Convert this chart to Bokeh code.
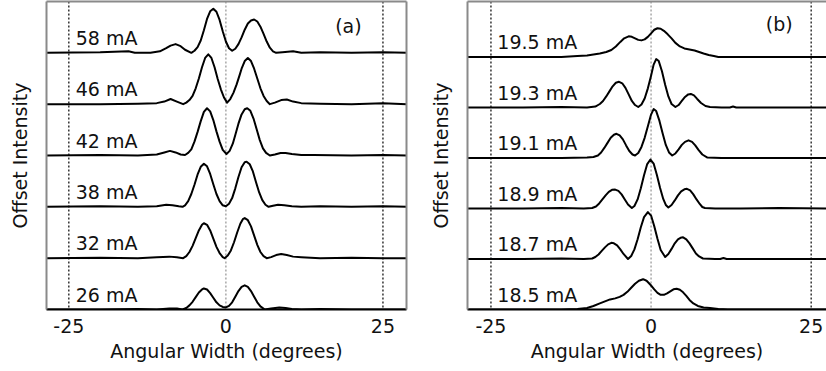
from bokeh.plotting import figure
from bokeh.layouts import row
from bokeh.models import Range1d, LinearAxis, FixedTicker, Span, ColumnDataSource
from bokeh.core.properties import value
from bokeh.embed import file_html
from bokeh.resources import INLINE

FONT = "DejaVu Sans"

# ---------------- data ----------------
XTICKS = [-25, 0, 25]
XTICK_LABELS = ["-25", "0", "25"]

# Panel (a): drive currents, bottom to top
labels_a = ["26 mA", "32 mA", "38 mA", "42 mA", "46 mA", "58 mA"]

x_26 = [-28.6, -20, -14, -11, -9, -7.8, -6.9, -6.3, -5.8, -5.3, -4.8, -4.3, -3.8, -3.5, -3.0, -2.5, -2.0, -1.5, -1.0, -0.5, 0.0, 0.5, 1.0, 1.5, 2.0, 2.5, 3.0, 3.5, 4.0, 4.5, 5.0, 5.5, 6.2, 7.2, 8.5, 9.5, 10.5, 12, 15, 20, 25, 28.8]
y_26 = [0, 0.0, 0.01, 0.0, 0.02, 0.02, 0.0, 0.03, 0.08, 0.15, 0.24, 0.33, 0.39, 0.41, 0.39, 0.32, 0.23, 0.14, 0.08, 0.05, 0.04, 0.07, 0.14, 0.25, 0.36, 0.44, 0.47, 0.44, 0.36, 0.25, 0.14, 0.06, 0.0, 0.02, 0.04, 0.03, 0.01, 0.0, 0.01, 0.0, 0.0, 0.0]

x_32 = [-28.6, -20, -14, -11, -9, -7.8, -6.8, -6.3, -5.8, -5.3, -4.8, -4.3, -3.8, -3.5, -3.0, -2.5, -2.0, -1.5, -1.0, -0.5, -0.2, 0.3, 0.8, 1.3, 1.8, 2.3, 2.7, 3.0, 3.5, 4.0, 4.5, 5.0, 5.5, 6.0, 6.5, 7.2, 8.0, 8.8, 9.7, 10.7, 12, 15, 20, 25, 28.8]
y_32 = [0, 0.01, 0.0, 0.02, 0.03, 0.02, 0.0, 0.04, 0.12, 0.24, 0.39, 0.54, 0.65, 0.68, 0.65, 0.54, 0.38, 0.22, 0.10, 0.02, 0.0, 0.05, 0.15, 0.31, 0.50, 0.67, 0.76, 0.78, 0.74, 0.62, 0.44, 0.26, 0.12, 0.04, 0.0, 0.02, 0.06, 0.08, 0.06, 0.03, 0.02, 0.0, 0.01, 0.0, 0.0]

x_38 = [-28.6, -20, -14, -11, -9.5, -8.5, -7.5, -6.9, -6.5, -6.0, -5.5, -5.0, -4.5, -4.0, -3.5, -3.0, -2.5, -2.0, -1.5, -1.0, -0.5, 0.0, 0.5, 1.0, 1.5, 2.0, 2.5, 3.0, 3.3, 3.8, 4.3, 4.8, 5.3, 5.8, 6.3, 6.8, 7.5, 8.3, 9.3, 10.5, 12, 15, 20, 25, 28.8]
y_38 = [0, 0.01, 0.0, 0.01, 0.04, 0.03, 0.01, 0.0, 0.03, 0.11, 0.25, 0.43, 0.63, 0.78, 0.84, 0.79, 0.64, 0.44, 0.25, 0.11, 0.03, 0.01, 0.06, 0.17, 0.36, 0.58, 0.77, 0.87, 0.88, 0.83, 0.69, 0.48, 0.28, 0.13, 0.04, 0.0, 0.02, 0.04, 0.03, 0.01, 0.0, 0.01, 0.0, 0.01, 0.0]

x_42 = [-28.6, -20, -14, -11, -9.8, -8.9, -8.0, -7.2, -6.5, -6.0, -5.5, -5.0, -4.5, -4.0, -3.5, -3.0, -2.5, -2.0, -1.5, -1.0, -0.5, 0.1, 0.6, 1.1, 1.5, 2.0, 2.5, 3.0, 3.4, 3.9, 4.4, 4.9, 5.4, 5.9, 6.4, 7.0, 7.8, 8.7, 9.5, 10.5, 12, 14, 20, 25, 28.8]
y_42 = [0, 0.01, 0.0, 0.02, 0.06, 0.09, 0.06, 0.02, 0.01, 0.05, 0.12, 0.27, 0.46, 0.67, 0.85, 0.92, 0.86, 0.69, 0.47, 0.27, 0.11, 0.03, 0.09, 0.23, 0.40, 0.62, 0.80, 0.90, 0.92, 0.87, 0.72, 0.51, 0.30, 0.14, 0.05, 0.0, 0.02, 0.05, 0.05, 0.03, 0.01, 0.01, 0.0, 0.01, 0.0]

x_46 = [-28.6, -20, -14, -11, -9.8, -8.8, -7.8, -6.8, -6.3, -5.8, -5.3, -4.8, -4.3, -3.8, -3.3, -2.8, -2.3, -1.8, -1.3, -0.8, -0.3, 0.2, 0.7, 1.2, 1.7, 2.2, 2.5, 3.0, 3.5, 4.0, 4.5, 5.0, 5.5, 6.0, 6.5, 7.0, 7.8, 8.8, 9.7, 10.7, 12, 15, 20, 25, 28.8]
y_46 = [0, 0.0, 0.01, 0.02, 0.05, 0.10, 0.05, 0.0, 0.03, 0.08, 0.16, 0.31, 0.50, 0.72, 0.90, 0.97, 0.90, 0.72, 0.49, 0.29, 0.13, 0.03, 0.10, 0.22, 0.38, 0.57, 0.69, 0.84, 0.90, 0.84, 0.69, 0.50, 0.31, 0.16, 0.06, 0.0, 0.03, 0.08, 0.09, 0.05, 0.02, 0.01, 0.0, 0.02, 0.0]

x_58 = [-28.6, -20, -15.5, -14.5, -12, -10.5, -9.5, -8.8, -8.0, -7.2, -6.5, -5.5, -5.0, -4.5, -4.0, -3.5, -3.0, -2.5, -2.0, -1.5, -1.0, -0.5, 0.0, 0.5, 1.0, 1.5, 2.0, 2.5, 3.0, 3.5, 4.0, 4.5, 5.0, 5.5, 6.0, 6.5, 7.0, 7.5, 8.0, 9.0, 10.7, 12, 15, 20, 25, 28.8]
y_58 = [0, 0.01, 0.03, 0.0, 0.0, 0.03, 0.09, 0.14, 0.17, 0.13, 0.06, 0.0, 0.04, 0.11, 0.24, 0.44, 0.66, 0.81, 0.86, 0.80, 0.64, 0.42, 0.22, 0.09, 0.04, 0.08, 0.17, 0.30, 0.45, 0.57, 0.63, 0.65, 0.61, 0.51, 0.37, 0.22, 0.10, 0.03, 0.0, 0.01, 0.03, 0.0, 0.01, 0.0, 0.01, 0.0]

# Panel (b): drive currents, bottom to top
labels_b = ["18.5 mA", "18.7 mA", "18.9 mA", "19.1 mA", "19.3 mA", "19.5 mA"]

x_185 = [-28.7, -20, -14, -11.5, -10, -9, -8, -7.2, -6.4, -5.6, -4.9, -4.3, -3.7, -3.1, -2.5, -1.9, -1.25, -0.7, -0.1, 0.5, 1.0, 1.5, 2.0, 2.5, 3.0, 3.5, 4.0, 4.5, 5.0, 5.5, 6.0, 6.6, 7.3, 8.2, 9.2, 10.5, 12, 14, 20, 28.7]
y_185 = [0, 0, 0, 0.01, 0.03, 0.07, 0.12, 0.16, 0.20, 0.22, 0.25, 0.29, 0.35, 0.43, 0.51, 0.57, 0.60, 0.57, 0.49, 0.40, 0.33, 0.29, 0.29, 0.32, 0.36, 0.40, 0.41, 0.39, 0.34, 0.27, 0.19, 0.12, 0.07, 0.04, 0.03, 0.01, 0.0, 0, 0, 0]

x_187 = [-28.7, -20, -14, -10.5, -9.2, -8.7, -8.2, -7.7, -7.2, -6.7, -6.2, -5.8, -5.3, -4.8, -4.3, -3.6, -3.1, -2.6, -2.1, -1.6, -1.1, -0.5, 0.0, 0.5, 1.0, 1.5, 2.2, 2.7, 3.2, 3.7, 4.2, 4.6, 5.0, 5.5, 6.0, 6.5, 7.0, 7.5, 8.1, 10, 10.8, 11.3, 11.8, 14, 20, 28.7]
y_187 = [0, 0, 0.01, 0, 0.01, 0.04, 0.09, 0.16, 0.23, 0.29, 0.32, 0.31, 0.27, 0.19, 0.10, 0.0, 0.06, 0.19, 0.39, 0.63, 0.83, 0.93, 0.86, 0.65, 0.40, 0.18, 0.04, 0.10, 0.20, 0.31, 0.39, 0.42, 0.43, 0.39, 0.31, 0.21, 0.11, 0.05, 0.01, 0.0, 0.0, 0.02, 0.0, 0, 0, 0]

x_189 = [-28.7, -20, -14, -10.5, -9.2, -8.6, -8.1, -7.6, -7.1, -6.6, -6.1, -5.6, -5.1, -4.6, -4.1, -3.6, -3.0, -2.6, -2.1, -1.6, -1.1, -0.6, -0.1, 0.4, 0.9, 1.4, 1.9, 2.3, 2.7, 3.2, 3.7, 4.2, 4.7, 5.2, 5.6, 6.1, 6.6, 7.1, 7.6, 8.0, 8.4, 10, 14, 20, 28.7]
y_189 = [0, 0, 0.01, 0, 0.01, 0.04, 0.10, 0.18, 0.26, 0.33, 0.37, 0.375, 0.35, 0.28, 0.18, 0.08, 0.01, 0.05, 0.18, 0.40, 0.66, 0.88, 0.97, 0.89, 0.67, 0.41, 0.19, 0.07, 0.02, 0.07, 0.16, 0.26, 0.34, 0.38, 0.39, 0.36, 0.28, 0.18, 0.09, 0.03, 0.01, 0, 0, 0.01, 0]

x_191 = [-28.7, -20, -14, -10, -9.0, -8.3, -7.8, -7.3, -6.8, -6.3, -5.8, -5.4, -4.9, -4.4, -3.9, -3.4, -2.9, -2.5, -2.0, -1.5, -1.0, -0.5, 0.0, 0.4, 0.8, 1.3, 1.8, 2.3, 2.8, 3.3, 3.8, 4.3, 4.8, 5.3, 5.85, 6.4, 6.9, 7.4, 8.0, 8.8, 11, 14, 20, 28.7]
y_191 = [0, 0, 0, 0.01, 0.02, 0.05, 0.11, 0.20, 0.30, 0.40, 0.46, 0.48, 0.45, 0.37, 0.25, 0.14, 0.07, 0.05, 0.10, 0.22, 0.40, 0.63, 0.86, 0.97, 0.93, 0.74, 0.49, 0.26, 0.11, 0.05, 0.09, 0.17, 0.26, 0.32, 0.35, 0.32, 0.25, 0.16, 0.07, 0.01, 0.0, 0, 0, 0]

x_193 = [-28.7, -20, -14, -10, -8.7, -8.0, -7.5, -7.0, -6.5, -6.0, -5.5, -5.0, -4.5, -4.0, -3.5, -3.0, -2.5, -2.0, -1.5, -1.0, -0.5, 0.0, 0.4, 0.8, 1.2, 1.7, 2.2, 2.7, 3.2, 3.8, 4.3, 4.8, 5.3, 5.8, 6.2, 6.7, 7.2, 7.8, 8.5, 9.2, 11, 12.3, 12.8, 13.3, 14, 20, 28.7]
y_193 = [0, 0, 0.01, 0.0, 0.02, 0.07, 0.13, 0.22, 0.32, 0.42, 0.49, 0.51, 0.48, 0.39, 0.26, 0.13, 0.05, 0.01, 0.06, 0.18, 0.38, 0.63, 0.85, 0.96, 0.92, 0.72, 0.45, 0.22, 0.07, 0.01, 0.05, 0.13, 0.21, 0.26, 0.27, 0.24, 0.17, 0.09, 0.03, 0.01, 0.0, 0.0, 0.02, 0.0, 0, 0, 0]

x_195 = [-28.7, -20, -14, -11.5, -10, -9, -8, -7, -6.2, -5.5, -4.8, -4.2, -3.5, -3.0, -2.5, -2.0, -1.5, -1.0, -0.5, 0.0, 0.5, 1.0, 1.5, 2.0, 2.6, 3.2, 3.8, 4.5, 5.2, 6.0, 6.8, 7.5, 8.2, 9.0, 9.8, 10.5, 14, 20, 28.7]
y_195 = [0, 0, 0, 0.02, 0.03, 0.05, 0.07, 0.10, 0.14, 0.21, 0.30, 0.37, 0.41, 0.40, 0.37, 0.34, 0.33, 0.35, 0.40, 0.47, 0.54, 0.57, 0.56, 0.52, 0.45, 0.37, 0.28, 0.21, 0.17, 0.15, 0.13, 0.10, 0.07, 0.04, 0.02, 0.0, 0, 0, 0]

traces_a = [(x_26, y_26), (x_32, y_32), (x_38, y_38), (x_42, y_42), (x_46, y_46), (x_58, y_58)]
traces_b = [(x_185, y_185), (x_187, y_187), (x_189, y_189), (x_191, y_191), (x_193, y_193), (x_195, y_195)]

FRAME_GREY = "#8a8a8a"
TEXT_COL = "#111111"
FS = "19px"


def blank_axis(ax):
    ax.ticker = FixedTicker(ticks=[])
    ax.major_tick_out = 0
    ax.major_tick_in = 0
    ax.minor_tick_out = 0
    ax.minor_tick_in = 0
    ax.major_label_standoff = 0
    ax.axis_line_color = FRAME_GREY
    ax.axis_line_width = 2


def make_panel(traces, labels, tag, width, border_left, border_right, border_bottom,
               xr, ytop, label_x, tag_xy, right_border):
    p = figure(width=width, height=371, x_range=Range1d(*xr), y_range=Range1d(0, ytop),
               output_backend="svg", toolbar_location=None,
               min_border_left=border_left, min_border_right=border_right,
               min_border_top=1, min_border_bottom=border_bottom)
    p.outline_line_color = None
    p.grid.visible = False
    p.background_fill_color = "white"
    p.border_fill_color = "white"

    xa = p.xaxis[0]
    xa.ticker = FixedTicker(ticks=XTICKS)
    xa.major_label_overrides = {t: s for t, s in zip(XTICKS, XTICK_LABELS)}
    xa.major_tick_out = 0
    xa.major_tick_in = 0
    xa.minor_tick_out = 0
    xa.minor_tick_in = 0
    xa.axis_line_color = "black"
    xa.axis_line_width = 2
    xa.major_label_text_font = FONT
    xa.major_label_text_font_size = FS
    xa.major_label_text_color = TEXT_COL
    xa.major_label_standoff = 9
    xa.axis_label = "Angular Width (degrees)"
    xa.axis_label_text_font = FONT
    xa.axis_label_text_font_size = FS
    xa.axis_label_text_font_style = "normal"
    xa.axis_label_text_color = TEXT_COL
    xa.axis_label_standoff = 4

    ya = p.yaxis[0]
    blank_axis(ya)
    ya.axis_label = "Offset Intensity"
    ya.axis_label_text_font = FONT
    ya.axis_label_text_font_size = FS
    ya.axis_label_text_font_style = "normal"
    ya.axis_label_text_color = TEXT_COL
    ya.axis_label_standoff = 16

    top = LinearAxis()
    blank_axis(top)
    p.add_layout(top, "above")
    if right_border:
        r = LinearAxis()
        blank_axis(r)
        p.add_layout(r, "right")

    for t in XTICKS:
        col = "#a8a8a8" if t == 0 else "#333333"
        p.add_layout(Span(location=t, dimension="height", line_color=col,
                          line_dash="2 2", line_width=1.5, level="underlay"))

    for i, (xs, ys) in enumerate(traces):
        p.line(xs, [v + i for v in ys], line_color="black", line_width=2,
               line_join="round")

    src = ColumnDataSource(dict(x=[label_x] * len(labels),
                                y=[i + 0.29 for i in range(len(labels))],
                                text=labels))
    p.text(x="x", y="y", text="text", source=src, text_font=value(FONT),
           text_font_size=FS, text_baseline="middle", text_align="left",
           text_color=TEXT_COL)
    p.text(x=[tag_xy[0]], y=[tag_xy[1]], text=[tag], text_font=value(FONT),
           text_font_size=FS, text_baseline="middle", text_align="center",
           text_color=TEXT_COL)
    return p


pa = make_panel(traces_a, labels_a, "(a)", 411, 46, 5, 62, (-28.55, 28.75), 6.0,
                -23.9, (19.5, 5.53), True)
pb = make_panel(traces_b, labels_b, "(b)", 415, 56, 0, 61, (-28.66, 27.39), 6.1,
                -24.0, (20.0, 5.65), False)

layout = row(pa, pb)
open("out.html", "w").write(file_html(layout, INLINE))
